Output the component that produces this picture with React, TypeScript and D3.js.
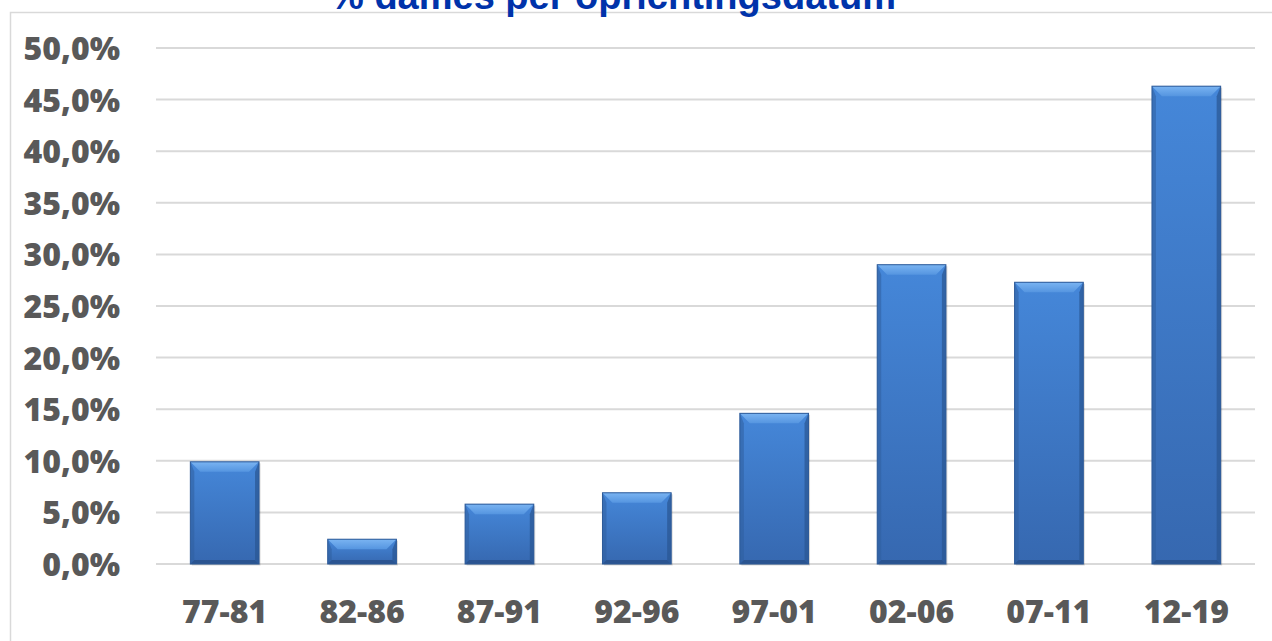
import React, { useEffect, useRef } from "react";
import * as d3 from "d3";

// data
const categories = ["77-81", "82-86", "87-91", "92-96", "97-01", "02-06", "07-11", "12-19"];
const values = [9.9, 2.4, 5.8, 6.9, 14.6, 29.0, 27.3, 46.3];
const yTicks = [0, 5, 10, 15, 20, 25, 30, 35, 40, 45, 50];
const title = "% dames per oprichtingsdatum";

const W = 1272;
const H = 641;

export default function App() {
  const ref = useRef<SVGSVGElement>(null);

  useEffect(() => {
    const svg = d3.select(ref.current);
    svg.selectAll("*").remove();

    const margin = { top: 48, right: 17, bottom: 77, left: 156 };

    const x = d3
      .scaleBand()
      .domain(categories)
      .range([margin.left, W - margin.right])
      .paddingInner(0.5)
      .paddingOuter(0.25);

    const y = d3.scaleLinear().domain([0, 50]).range([H - margin.bottom, margin.top]);

    const defs = svg.append("defs");
    const grad = defs
      .append("linearGradient")
      .attr("id", "barGrad")
      .attr("x1", "0%")
      .attr("x2", "0%")
      .attr("y1", "0%")
      .attr("y2", "100%");
    grad.append("stop").attr("offset", "0%").attr("stop-color", "#4587d9");
    grad.append("stop").attr("offset", "100%").attr("stop-color", "#3668b0");

    const topGrad = defs
      .append("linearGradient")
      .attr("id", "topGrad")
      .attr("x1", "0%")
      .attr("x2", "0%")
      .attr("y1", "0%")
      .attr("y2", "100%");
    topGrad.append("stop").attr("offset", "0%").attr("stop-color", "#7ab4f2");
    topGrad.append("stop").attr("offset", "100%").attr("stop-color", "#5595e0");

    // outer border of chart area
    svg
      .append("rect")
      .attr("x", 10.5)
      .attr("y", 12.5)
      .attr("width", 1400)
      .attr("height", 800)
      .attr("fill", "#fff")
      .attr("stroke", "#d9d9d9")
      .attr("stroke-width", 1.5);

    // gridlines
    svg
      .append("g")
      .selectAll("line")
      .data(yTicks)
      .enter()
      .append("line")
      .attr("x1", margin.left)
      .attr("x2", W - margin.right)
      .attr("y1", (d) => y(d))
      .attr("y2", (d) => y(d))
      .attr("stroke", "#d9d9d9")
      .attr("stroke-width", 2);

    // y labels
    svg
      .append("g")
      .selectAll("text")
      .data(yTicks)
      .enter()
      .append("text")
      .attr("x", 120)
      .attr("y", (d) => y(d))
      .attr("dy", 12)
      .attr("text-anchor", "end")
      .attr("font-family", "Open Sans, sans-serif")
      .attr("font-weight", 800)
      .attr("font-size", 32)
      .attr("fill", "#595959")
      .text((d) => d.toFixed(1).replace(".", ",") + "%");

    // x labels
    svg
      .append("g")
      .selectAll("text")
      .data(categories)
      .enter()
      .append("text")
      .attr("x", (d) => (x(d) as number) + x.bandwidth() / 2)
      .attr("y", 623)
      .attr("text-anchor", "middle")
      .attr("font-family", "Open Sans, sans-serif")
      .attr("font-weight", 800)
      .attr("font-size", 32)
      .attr("fill", "#595959")
      .text((d) => d);

    // bars with bevel
    const bw = x.bandwidth();
    const bev = 10;
    const side = 4;
    const bars = svg
      .append("g")
      .selectAll("g")
      .data(categories.map((c, i) => ({ c, v: values[i] })))
      .enter()
      .append("g");

    // soft shadow
    bars
      .append("rect")
      .attr("x", (d) => (x(d.c) as number) + 1.5)
      .attr("y", (d) => y(d.v) + 1.5)
      .attr("width", bw)
      .attr("height", (d) => y(0) - y(d.v))
      .attr("fill", "#000")
      .attr("opacity", 0.15);

    bars
      .append("rect")
      .attr("x", (d) => x(d.c) as number)
      .attr("y", (d) => y(d.v))
      .attr("width", bw)
      .attr("height", (d) => y(0) - y(d.v))
      .attr("fill", "url(#barGrad)");

    const poly = (pts: [number, number][]) => pts.map((p) => p.join(",")).join(" ");

    // left / right edges, slightly darker
    bars
      .append("polygon")
      .attr("points", (d) => {
        const x0 = x(d.c) as number, t = y(d.v), b = y(0);
        return poly([[x0, t], [x0 + side, t + bev], [x0 + side, b - side], [x0, b]]);
      })
      .attr("fill", "#2f5e9f")
      .attr("opacity", 0.55);
    bars
      .append("polygon")
      .attr("points", (d) => {
        const x1 = (x(d.c) as number) + bw, t = y(d.v), b = y(0);
        return poly([[x1, t], [x1 - side, t + bev], [x1 - side, b - side], [x1, b]]);
      })
      .attr("fill", "#2a5591")
      .attr("opacity", 0.7);
    // bottom edge
    bars
      .append("polygon")
      .attr("points", (d) => {
        const x0 = x(d.c) as number, x1 = x0 + bw, b = y(0);
        return poly([[x0, b], [x1, b], [x1 - side, b - side], [x0 + side, b - side]]);
      })
      .attr("fill", "#284f88")
      .attr("opacity", 0.8);
    // top bevel
    bars
      .append("polygon")
      .attr("points", (d) => {
        const x0 = x(d.c) as number, x1 = x0 + bw, t = y(d.v);
        return poly([[x0, t], [x1, t], [x1 - bev, t + bev], [x0 + bev, t + bev]]);
      })
      .attr("fill", "url(#topGrad)");

    bars
      .append("rect")
      .attr("x", (d) => x(d.c) as number)
      .attr("y", (d) => y(d.v))
      .attr("width", bw)
      .attr("height", (d) => y(0) - y(d.v))
      .attr("fill", "none")
      .attr("stroke", "#2d5a98")
      .attr("stroke-width", 1);

    // title, cut off at the top like the reference
    svg
      .append("text")
      .attr("x", 613)
      .attr("y", 9)
      .attr("text-anchor", "middle")
      .attr("font-family", "Liberation Sans, Arial, sans-serif")
      .attr("font-weight", "bold")
      .attr("font-size", 38)
      .attr("fill", "#0033aa")
      .text(title);
  }, []);

  return (
    <svg
      ref={ref}
      width={W}
      height={H}
      style={{ position: "fixed", left: 0, top: 0, background: "#fff" }}
    />
  );
}
